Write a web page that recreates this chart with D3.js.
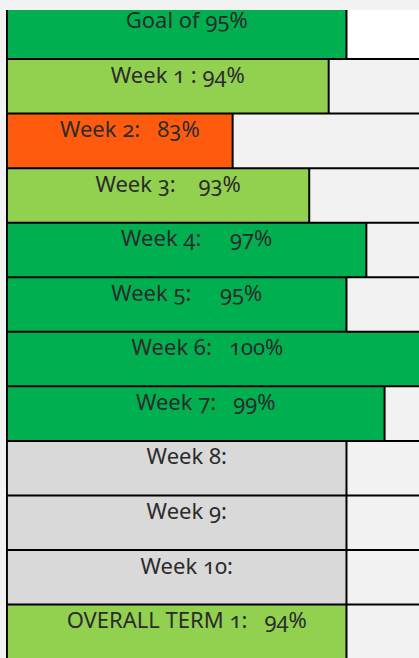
<!DOCTYPE html>
<html>
<head>
<meta charset="utf-8">
<script src="https://cdn.jsdelivr.net/npm/d3@7"></script>
<style>
  html, body { margin: 0; padding: 0; background: #f2f2f2; overflow: hidden; }
  text { white-space: pre; font-variant-numeric: oldstyle-nums; font-feature-settings: "onum" 1; }
</style>
</head>
<body>
<div id="chart-area"></div>
<script>
const WIDTH = 419
const HEIGHT = 658

// rows of the tracker, top to bottom
const rows = ["Goal", "Week 1", "Week 2", "Week 3", "Week 4", "Week 5", "Week 6",
    "Week 7", "Week 8", "Week 9", "Week 10", "OVERALL TERM 1"]
// attendance shown in each row (null = not filled in yet)
const scores = [95, 94, 83, 93, 97, 95, 100, 99, null, null, null, 94]
// label text as written in each cell
const labels = ["Goal of 95%", "Week 1 : 94%", "Week 2:   83%", "Week 3:    93%",
    "Week 4:     97%", "Week 5:     95%", "Week 6:   100%", "Week 7:   99%",
    "Week 8:", "Week 9:", "Week 10:", "OVERALL TERM 1:   94%"]
// how far each coloured bar reaches across its row (percent of row)
const barLength = [82.0, 77.7, 54.5, 73.0, 86.8, 82.0, 100, 91.2, 82.0, 82.0, 82.0, 82.0]
// status of each row, picks the fill
const status = ["met", "near", "low", "near", "met", "met", "met", "met",
    "empty", "empty", "empty", "near"]

const statusColor = {
    met: "#00b050",
    near: "#92d050",
    low: "#ff5b0e",
    empty: "#d9d9d9"
}

const data = rows.map((r, i) => ({
    row: r,
    score: scores[i],
    label: labels[i],
    len: barLength[i],
    status: status[i]
}))

const svg = d3.select("#chart-area").append("svg")
    .attr("width", WIDTH)
    .attr("height", HEIGHT)
    .style("display", "block")

// scales
const x = d3.scaleLinear().domain([0, 100]).range([7, 421])
const y = d3.scaleBand()
    .domain(rows)
    .range([4.5, 4.5 + 54.55 * rows.length])
    .padding(0)

svg.append("rect")
    .attr("width", WIDTH)
    .attr("height", HEIGHT)
    .attr("fill", "#f2f2f2")

const row = svg.selectAll(".row")
    .data(data)
    .enter().append("g")
    .attr("class", "row")
    .attr("transform", d => `translate(0, ${y(d.row)})`)

// remainder of each row
row.append("rect")
    .attr("x", d => x(d.len))
    .attr("width", d => Math.max(0, x(100) + 10 - x(d.len)))
    .attr("height", y.bandwidth())
    .attr("fill", (d, i) => i === 0 ? "#ffffff" : "#f2f2f2")

// the bar
row.append("rect")
    .attr("x", x(0))
    .attr("width", d => x(d.len) - x(0))
    .attr("height", y.bandwidth())
    .attr("fill", d => statusColor[d.status])

// bar end lines
row.append("line")
    .attr("x1", d => x(d.len))
    .attr("x2", d => x(d.len))
    .attr("y1", 0)
    .attr("y2", y.bandwidth())
    .attr("stroke", "#000")
    .attr("stroke-width", 2)

// row dividers
svg.selectAll(".divider")
    .data(rows)
    .enter().append("line")
    .attr("class", "divider")
    .attr("x1", 6)
    .attr("x2", WIDTH)
    .attr("y1", d => y(d))
    .attr("y2", d => y(d))
    .attr("stroke", "#000")
    .attr("stroke-width", 2)

// left border
svg.append("line")
    .attr("x1", 6.9)
    .attr("x2", 6.9)
    .attr("y1", 0)
    .attr("y2", HEIGHT)
    .attr("stroke", "#000")
    .attr("stroke-width", 2)

// labels
row.append("text")
    .attr("x", d => (x(0) + x(Math.min(d.len, 92))) / 2 + 10)
    .attr("y", 23.5)
    .attr("text-anchor", "middle")
    .attr("font-family", "'Noto Sans', sans-serif")
    .attr("font-size", "22px")
    .attr("fill", "#2b2b2b")
    .text(d => d.label)

// page frame over the top edge
svg.append("rect")
    .attr("width", WIDTH)
    .attr("height", 10)
    .attr("fill", "#f2f2f2")
svg.append("rect")
    .attr("width", 6)
    .attr("height", HEIGHT)
    .attr("fill", "#f2f2f2")
</script>
</body>
</html>
